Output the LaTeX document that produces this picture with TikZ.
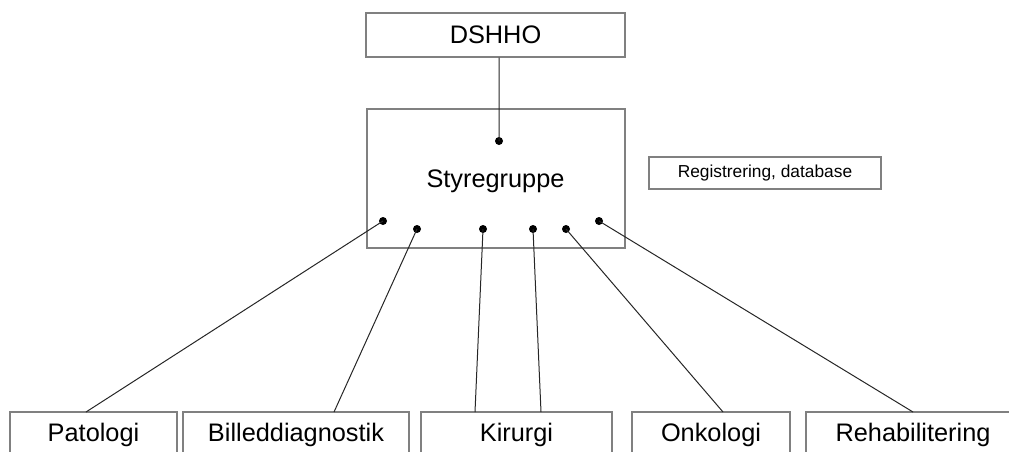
\documentclass[tikz,border=0pt]{standalone}
\usepackage{fontspec}
\setmainfont{Liberation Sans}
\usetikzlibrary{positioning}

\begin{document}
\begin{tikzpicture}[x=0.75pt,y=-0.75pt,
        unit/.style={draw=black!50,line width=0.9pt,inner sep=0pt,
                     font=\fontsize{19}{23}\selectfont},
        smallunit/.style={unit,font=\fontsize{13}{16}\selectfont},
        dot/.style={circle,fill=black,inner sep=0pt,minimum size=6pt},
        link/.style={draw=black!85,line width=0.75pt}]
        \useasboundingbox (0,0) rectangle (1009,451);
        \clip (0,0) rectangle (1009,451);
        % top
        \node[unit,minimum width=194.25pt,minimum height=33pt] (dshho) at (495.5,35) {DSHHO};
        \node[unit,minimum width=193.5pt,minimum height=104.25pt] (styre) at (496,178.5) {};
        \node (styretxt) at (495.5,181) [font=\fontsize{19}{23}\selectfont] {Styregruppe};
        \node[smallunit,minimum width=174pt,minimum height=24pt] (reg) at (765,173) {Registrering, database};
        % groups
        \node[unit,minimum width=125.25pt,minimum height=34.5pt] (pato) at (93.5,435) {Patologi};
        \node[unit,minimum width=169.5pt,minimum height=34.5pt] (bille) at (296,435) {Billeddiagnostik};
        \node[unit,minimum width=143.25pt,minimum height=34.5pt] (kir) at (516.5,435) {Kirurgi};
        \node[unit,minimum width=118.5pt,minimum height=34.5pt] (onko) at (711,435) {Onkologi};
        \node[unit,minimum width=160.5pt,minimum height=34.5pt] (rehab) at (913,435) {Rehabilitering};
        % dots
        \node[dot] (d0) at (499,141) {};
        \node[dot] (d1) at (383,221) {};
        \node[dot] (d2) at (417,229) {};
        \node[dot] (d3) at (483,229) {};
        \node[dot] (d4) at (533,229) {};
        \node[dot] (d5) at (566,229) {};
        \node[dot] (d6) at (599,221) {};
        \coordinate (pato-in) at (86,412);
        \coordinate (bille-in) at (334,412);
        \coordinate (kir-in1) at (475,412);
        \coordinate (kir-in2) at (541,412);
        \coordinate (onko-in) at (723,412);
        \coordinate (rehab-in) at (913,412);
        \path[link]
         (dshho.south -| d0) -- (d0.center)
         (d1.center) -- (pato-in)
         (d2.center) -- (bille-in)
         (d3.center) -- (kir-in1)
         (d4.center) -- (kir-in2)
         (d5.center) -- (onko-in)
         (d6.center) -- (rehab-in);
\end{tikzpicture}
\end{document}
